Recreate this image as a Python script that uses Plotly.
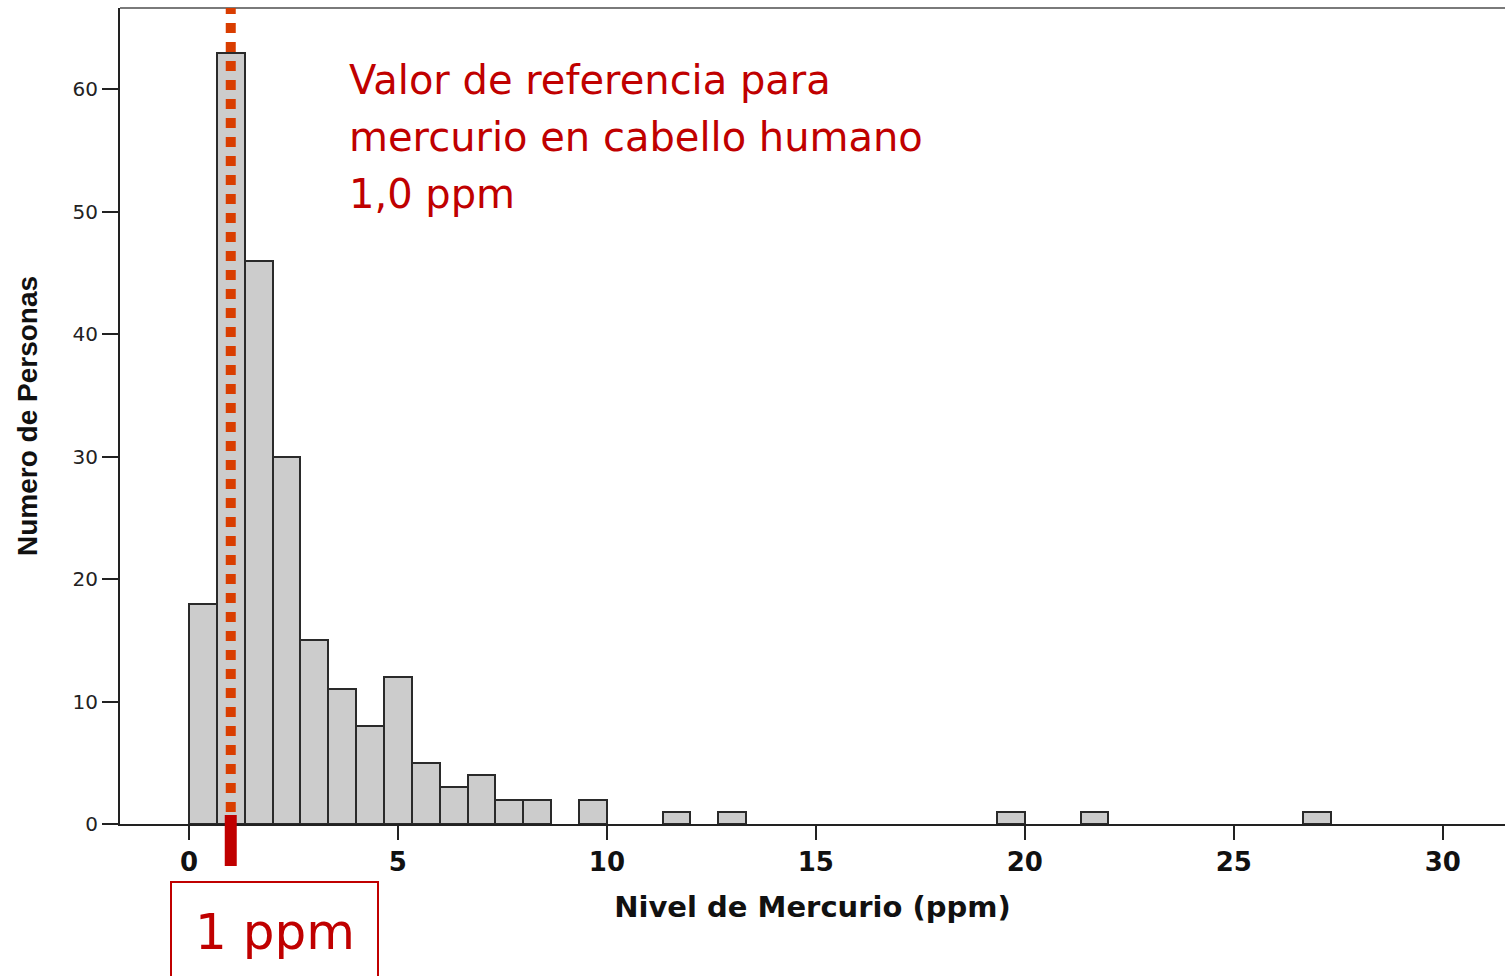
import plotly.graph_objects as go

# ---- data ----
bin_width_ppm = 2 / 3
bin_starts_ppm = [0, 2/3, 4/3, 2, 8/3, 10/3, 4, 14/3, 16/3, 6, 20/3, 22/3, 8,
                  28/3, 34/3, 38/3, 58/3, 64/3, 80/3]
counts = [18, 63, 46, 30, 15, 11, 8, 12, 5, 3, 4, 2, 2, 2, 1, 1, 1, 1, 1]
x_ticks = [0, 5, 10, 15, 20, 25, 30]
y_ticks = [0, 10, 20, 30, 40, 50, 60]
reference_ppm = 1.0
ref_lines = ["Valor de referencia para", "mercurio en cabello humano", "1,0 ppm"]
box_label = "1 ppm"

RED = "#C00000"
DOT = "#D93D00"

fig = go.Figure()
fig.add_trace(go.Bar(
    x=[s + bin_width_ppm / 2 for s in bin_starts_ppm],
    y=counts,
    width=[bin_width_ppm] * len(counts),
    marker=dict(color="#CCCCCC", line=dict(color="#2a2a2a", width=2)),
    hoverinfo="x+y",
))

# plot-area geometry in pixels (for paper-coord placement)
W, H = 1505, 976
ml, mr, mt, mb = 120, 0, 8, 152
pw, ph = W - ml - mr, H - mt - mb


def py(ypx):
    return (H - mb - ypx) / ph


def px(xpx):
    return (xpx - ml) / pw


shapes = [
    # top frame line
    dict(type="line", xref="paper", yref="paper", x0=0, x1=1, y0=1, y1=1,
         line=dict(color="#7a7a7a", width=2), layer="above"),
    # dotted reference line
    dict(type="line", xref="x", yref="paper", x0=reference_ppm, x1=reference_ppm,
         y0=py(812), y1=1, line=dict(color=DOT, width=10, dash="10px,9px"),
         layer="above"),
    # thick red marker at axis
    dict(type="line", xref="x", yref="paper", x0=reference_ppm, x1=reference_ppm,
         y0=py(815), y1=py(866), line=dict(color=RED, width=12), layer="above"),
    # box around "1 ppm"
    dict(type="rect", xref="paper", yref="paper", x0=px(171), x1=px(378),
         y0=py(1000), y1=py(882), line=dict(color=RED, width=2),
         fillcolor="rgba(0,0,0,0)", layer="above"),
]

annotations = []
for i, t in enumerate(ref_lines):
    annotations.append(dict(
        text=t, xref="paper", yref="paper", x=px(347), y=py(80 + 57 * i),
        xanchor="left", yanchor="middle", showarrow=False,
        font=dict(family="DejaVu Sans", size=40, color=RED)))
annotations.append(dict(
    text=box_label, xref="paper", yref="paper", x=px(275), y=py(932),
    xanchor="center", yanchor="middle", showarrow=False,
    font=dict(family="DejaVu Sans", size=50, color=RED)))

fig.update_layout(
    width=W, height=H,
    margin=dict(l=ml, r=mr, t=mt, b=mb),
    plot_bgcolor="white", paper_bgcolor="white",
    showlegend=False, bargap=0,
    shapes=shapes, annotations=annotations,
    xaxis=dict(
        range=[-1.65, 31.49], tickvals=x_ticks, ticks="outside", ticklen=14,
        tickwidth=2, tickcolor="#222", showline=True, linecolor="#222",
        linewidth=2, showgrid=False, zeroline=False,
        tickfont=dict(family="DejaVu Sans", size=26, color="#111",
                      weight="bold"),
        title=dict(text="<b>Nivel de Mercurio (ppm)</b>", standoff=20,
                   font=dict(family="DejaVu Sans", size=29, color="#111")),
    ),
    yaxis=dict(
        range=[0, 66.64], tickvals=y_ticks, ticks="outside", ticklen=16,
        tickwidth=2, tickcolor="#222", showline=True, linecolor="#222",
        linewidth=2, showgrid=False, zeroline=False,
        tickfont=dict(family="DejaVu Sans", size=20, color="#222"),
        title=dict(text="<b>Numero de Personas</b>", standoff=27,
                   font=dict(family="Liberation Sans", size=28, color="#111")),
    ),
)

fig.write_html("out.html", config={"displayModeBar": False},
               post_script="document.body.style.margin='0';")
